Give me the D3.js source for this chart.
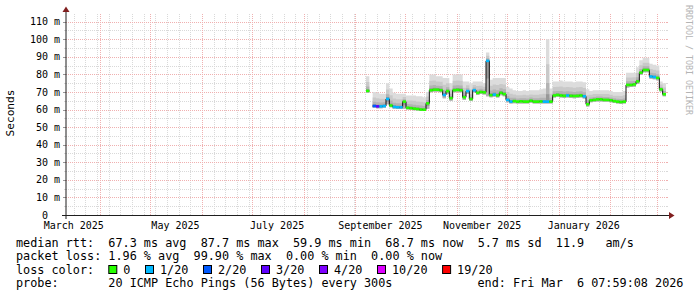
<!DOCTYPE html>
<html><head><meta charset="utf-8">
<script src="https://cdn.jsdelivr.net/npm/d3@7"></script>
<style>
html,body{margin:0;padding:0;background:#fff;}
svg{display:block;}
text{font-family:"DejaVu Sans Mono",monospace;white-space:pre;}
</style></head><body>
<svg id="c" width="697" height="297"></svg>
<script>
// ---------- data ----------
const END = new Date(2026, 2, 6, 7, 59, 8);
const SPAN_DAYS = 360;
const DATA_START = new Date(2025, 8, 7, 7, 59, 8);
const STEP_DAYS = 2;

const median = [
70.6, null, 62.0, 61.8, 61.8, 62.0, 66.0, 62.3, 61.5, 61.3,
61.3, 64.5, 61.0, 60.8, 60.5, 60.3, 60.0, 59.9, 63.5, 71.0,
71.3, 71.3, 71.0, 68.3, 70.5, 66.5, 71.0, 71.2, 71.0, 67.0,
70.5, 66.0, 71.0, 69.5, 70.0, 69.8, 87.7, 68.2, 68.5, 68.0,
69.5, 68.8, 65.5, 64.5, 64.8, 64.5, 64.7, 64.5, 64.5, 65.0,
64.5, 64.5, 64.6, 64.5, 64.5, 64.5, 68.0, 68.3, 68.0, 67.8,
68.0, 67.8, 67.7, 67.8, 68.0, 67.5, 63.0, 65.3, 65.5, 65.8,
65.8, 65.5, 65.5, 65.3, 64.8, 64.5, 64.3, 64.5, 74.0, 74.0,
74.3, 76.0, 81.0, 82.5, 82.5, 78.8, 78.5, 78.0, 71.5, 68.7
];
const smokeHigh = [
79, null, 70, 69.5, 69, 69, 75, 72, 69.5, 69,
69, 69, 68, 68, 68, 67.5, 67.5, 67, 70, 80,
80, 79, 79, 78, 78, 75, 80, 80, 80, 76,
76, 75, 76, 76, 76, 75, 92.5, 77, 78, 78,
78, 78, 73, 72, 71, 70.5, 70.5, 71, 70.5, 71,
71, 71, 71.5, 72, 100, 72, 76, 76, 76.5, 76,
76, 76, 75.5, 76, 76, 75.5, 71.5, 70.5, 71, 71,
71, 71, 71, 70.5, 70, 70, 70, 70.5, 81, 81,
81, 84, 88, 89.5, 89.5, 86, 85.5, 85, 76, 75
];
const smokeLow = [
69.5, null, 61.0, 60.8, 60.8, 61.0, 63.0, 61.3, 60.5, 60.3,
60.3, 60.5, 60.0, 59.9, 59.6, 59.4, 59.2, 59.2, 60.5, 69.8,
70.2, 70.2, 69.8, 66.5, 69.0, 65.0, 69.8, 70.0, 69.8, 65.5,
69.0, 64.8, 69.8, 68.3, 68.8, 68.6, 67.5, 67.0, 67.3, 66.8,
68.2, 67.5, 64.2, 63.4, 63.6, 63.4, 63.5, 63.4, 63.4, 63.8,
63.4, 63.4, 63.5, 63.4, 63.4, 63.4, 66.8, 67.1, 66.8, 66.6,
66.8, 66.6, 66.5, 66.6, 66.8, 66.3, 61.8, 64.2, 64.4, 64.6,
64.6, 64.4, 64.4, 64.2, 63.7, 63.4, 63.2, 63.4, 72.6, 72.8,
73.0, 74.5, 79.6, 81.2, 81.2, 77.5, 77.2, 76.7, 70.3, 67.6
];
const lossCount = [
0, null, 2, 3, 1, 1, 1, 0, 1, 1,
1, 0, 0, 0, 0, 0, 0, 0, 0, 0,
0, 0, 0, 1, 0, 0, 0, 0, 0, 0,
1, 0, 1, 0, 0, 0, 1, 0, 1, 0,
0, 0, 1, 1, 0, 0, 0, 0, 0, 0,
0, 0, 0, 1, 1, 0, 0, 0, 0, 0,
1, 0, 0, 0, 0, 1, 0, 0, 0, 0,
0, 0, 0, 0, 0, 0, 0, 0, 0, 0,
0, 0, 0, 0, 0, 1, 1, 0, 0, 0
];

const yMajorTicks = [0, 10, 20, 30, 40, 50, 60, 70, 80, 90, 100, 110];
const yMinorTicks = [5, 15, 25, 35, 45, 55, 65, 75, 85, 95, 105];
const xLabels = ["March 2025", "May 2025", "July 2025", "September 2025", "November 2025", "January 2026"];
const xLabelDates = [new Date(2025,2,16), new Date(2025,4,16), new Date(2025,6,16), new Date(2025,8,16), new Date(2025,10,16), new Date(2026,0,16)];

const lossLevels = [0, 1, 2, 3, 4, 10, 19];
const lossLabels = ["0", "1/20", "2/20", "3/20", "4/20", "10/20", "19/20"];
const lossColors = ["#26ff00", "#00b8ff", "#0059ff", "#5e00ff", "#7e00ff", "#dd00ff", "#ff0000"];

const legendRow1 = "median rtt:  67.3 ms avg  87.7 ms max  59.9 ms min  68.7 ms now  5.7 ms sd  11.9   am/s";
const legendRow2 = "packet loss: 1.96 % avg  99.90 % max  0.00 % min  0.00 % now";
const legendRow3 = "loss color:";
const legendRow4 = "probe:       20 ICMP Echo Pings (56 Bytes) every 300s";
const legendEnd = "end: Fri Mar  6 07:59:08 2026";
const yTitle = "Seconds";
const credit = "RRDTOOL / TOBI OETIKER";

// ---------- layout ----------
const X0 = 66, X1 = 666, Y0 = 215, Y1 = 15;
const svg = d3.select("#c");
svg.append("rect").attr("width", 697).attr("height", 297).attr("fill", "#fff");

const x = d3.scaleTime().domain([d3.timeDay.offset(END, -SPAN_DAYS), END]).range([X0, X1]);
const y = d3.scaleLinear().domain([0, 113.8]).range([Y0, Y1]);

const times = d3.range(median.length + 1).map(i => d3.timeDay.offset(DATA_START, i * STEP_DAYS));

const pts = [];
median.forEach((m, i) => {
  if (m == null) { pts.push({gap: true}); return; }
  pts.push({t: times[i], i});
  if (i === median.length - 1 || median[i + 1] == null) pts.push({t: times[i + 1], i});
});

// ---------- grid ----------
const gGrid = svg.append("g").attr("shape-rendering", "crispEdges");
const minorCol = "#d9d9d9", majorCol = "#f0b0b0";
const weeks = d3.timeSunday.range(x.domain()[0], END);
const months = d3.timeMonth.range(x.domain()[0], END);
const monthSet = new Set(months.map(d => +d));
weeks.filter(d => !monthSet.has(+d)).forEach(d => {
  const px = Math.round(x(d)) + 0.5;
  gGrid.append("line").attr("x1", px).attr("x2", px).attr("y1", Y0).attr("y2", Y1 - 2)
    .attr("stroke", minorCol).attr("stroke-dasharray", "1,1");
});
yMinorTicks.forEach(v => {
  const py = Math.round(y(v)) + 0.5;
  gGrid.append("line").attr("x1", X0).attr("x2", X1).attr("y1", py).attr("y2", py)
    .attr("stroke", minorCol).attr("stroke-dasharray", "1,1");
  gGrid.append("line").attr("x1", X0 - 2).attr("x2", X0).attr("y1", py).attr("y2", py).attr("stroke", minorCol);
  gGrid.append("line").attr("x1", X1).attr("x2", X1 + 2).attr("y1", py).attr("y2", py).attr("stroke", minorCol);
});
months.forEach(d => {
  const px = Math.round(x(d)) + 0.5;
  gGrid.append("line").attr("x1", px).attr("x2", px).attr("y1", Y0).attr("y2", Y1 - 2)
    .attr("stroke", majorCol).attr("stroke-dasharray", "1,1");
});
yMajorTicks.filter(v => v > 0).forEach(v => {
  const py = Math.round(y(v)) + 0.5;
  gGrid.append("line").attr("x1", X0).attr("x2", X1).attr("y1", py).attr("y2", py)
    .attr("stroke", majorCol).attr("stroke-dasharray", "1,1");
  gGrid.append("line").attr("x1", X0 - 3).attr("x2", X0).attr("y1", py).attr("y2", py).attr("stroke", "#999");
  gGrid.append("line").attr("x1", X1).attr("x2", X1 + 2).attr("y1", py).attr("y2", py).attr("stroke", majorCol);
});

// ---------- smoke ----------
const bands = [
  {fill: "#dcdcdc", lo: i => smokeLow[i], hi: i => smokeHigh[i]},
  {fill: "#c9c9c9", lo: i => smokeLow[i], hi: i => median[i] + 0.6 * (smokeHigh[i] - median[i])},
  {fill: "#b3b3b3", lo: i => smokeLow[i], hi: i => median[i] + 0.3 * (smokeHigh[i] - median[i])},
  {fill: "#989898", lo: i => median[i] - 0.5 * (median[i] - smokeLow[i]), hi: i => median[i] + 0.12 * (smokeHigh[i] - median[i])}
];
const gSmoke = svg.append("g");
bands.forEach(b => {
  const area = d3.area().curve(d3.curveStepAfter)
    .defined(d => !d.gap)
    .x(d => x(d.t)).y0(d => y(b.lo(d.i))).y1(d => y(b.hi(d.i)));
  gSmoke.append("path").attr("d", area(pts)).attr("fill", b.fill);
});

// ---------- median line ----------
const line = d3.line().curve(d3.curveStepAfter).defined(d => !d.gap)
  .x(d => x(d.t)).y(d => y(median[d.i]));
svg.append("path").attr("d", line(pts)).attr("fill", "none").attr("stroke", "#111").attr("stroke-width", 1);

const lossColor = c => { let k = 0; lossLevels.forEach((l, j) => { if (c >= l) k = j; }); return lossColors[k]; };
svg.append("g").selectAll("line").data(median.map((m, i) => ({m, i})).filter(d => d.m != null))
  .join("line")
  .attr("x1", d => x(times[d.i])).attr("x2", d => x(times[d.i + 1]))
  .attr("y1", d => y(d.m)).attr("y2", d => y(d.m))
  .attr("stroke", d => lossColor(lossCount[d.i])).attr("stroke-width", 2.6);

// ---------- axes ----------
const axisCol = "#1f1f1f", arrowCol = "#801f1f";
svg.append("line").attr("x1", X0 - 4).attr("x2", X1 + 4).attr("y1", Y0 + 0.5).attr("y2", Y0 + 0.5).attr("stroke", axisCol);
svg.append("line").attr("x1", X0).attr("x2", X0).attr("y1", Y0 + 4).attr("y2", Y1 - 4).attr("stroke", axisCol);
svg.append("path").attr("d", `M${X1 + 3},${Y0 - 3}L${X1 + 3},${Y0 + 4}L${X1 + 8.5},${Y0 + 0.5}Z`).attr("fill", arrowCol);
svg.append("path").attr("d", `M${X0 - 3.5},${Y1 - 3}L${X0 + 3.5},${Y1 - 3}L${X0},${Y1 - 8.5}Z`).attr("fill", arrowCol);

svg.append("g").selectAll("text").data(yMajorTicks).join("text")
  .attr("x", 60).attr("y", v => y(v) + 3.6)
  .attr("text-anchor", "end").attr("font-size", "10px").attr("fill", "#000")
  .text(v => v === 0 ? "0\u00a0\u00a0" : v + "\u00a0m");

svg.append("g").selectAll("text").data(xLabels).join("text")
  .attr("x", (d, i) => x(xLabelDates[i])).attr("y", 228.5)
  .attr("text-anchor", "middle").attr("font-size", "10px").attr("fill", "#000")
  .text(d => d);

svg.append("text").attr("transform", "translate(14,113) rotate(-90)")
  .attr("text-anchor", "middle").attr("font-size", "11.2px").attr("fill", "#000").text(yTitle);

svg.append("text").attr("transform", "translate(685.5,5) rotate(90)")
  .attr("text-anchor", "start").attr("font-size", "8.3px").attr("fill", "#b4b4b4").text(credit);

// ---------- legend ----------
const LX = 16, CW = 7.1, LFS = "11.8px";
const rowsY = [246.5, 260, 273.5, 287];
const leg = svg.append("g").attr("font-size", LFS).attr("fill", "#000");
leg.append("text").attr("x", LX).attr("y", rowsY[0]).text(legendRow1);
leg.append("text").attr("x", LX).attr("y", rowsY[1]).text(legendRow2);
leg.append("text").attr("x", LX).attr("y", rowsY[2]).text(legendRow3);
leg.append("text").attr("x", LX).attr("y", rowsY[3]).text(legendRow4);
leg.append("text").attr("x", LX + 65 * CW).attr("y", rowsY[3]).text(legendEnd);
let cx = LX + 13 * CW;
lossLabels.forEach((lab, j) => {
  leg.append("rect").attr("x", cx + 0.5).attr("y", 265.5).attr("width", 8).attr("height", 8)
    .attr("fill", lossColors[j]).attr("stroke", "#000").attr("stroke-width", 1);
  leg.append("text").attr("x", cx + 15).attr("y", rowsY[2]).text(lab);
  cx = cx + 15 + lab.length * CW + 14.6;
});
</script>
</body></html>
